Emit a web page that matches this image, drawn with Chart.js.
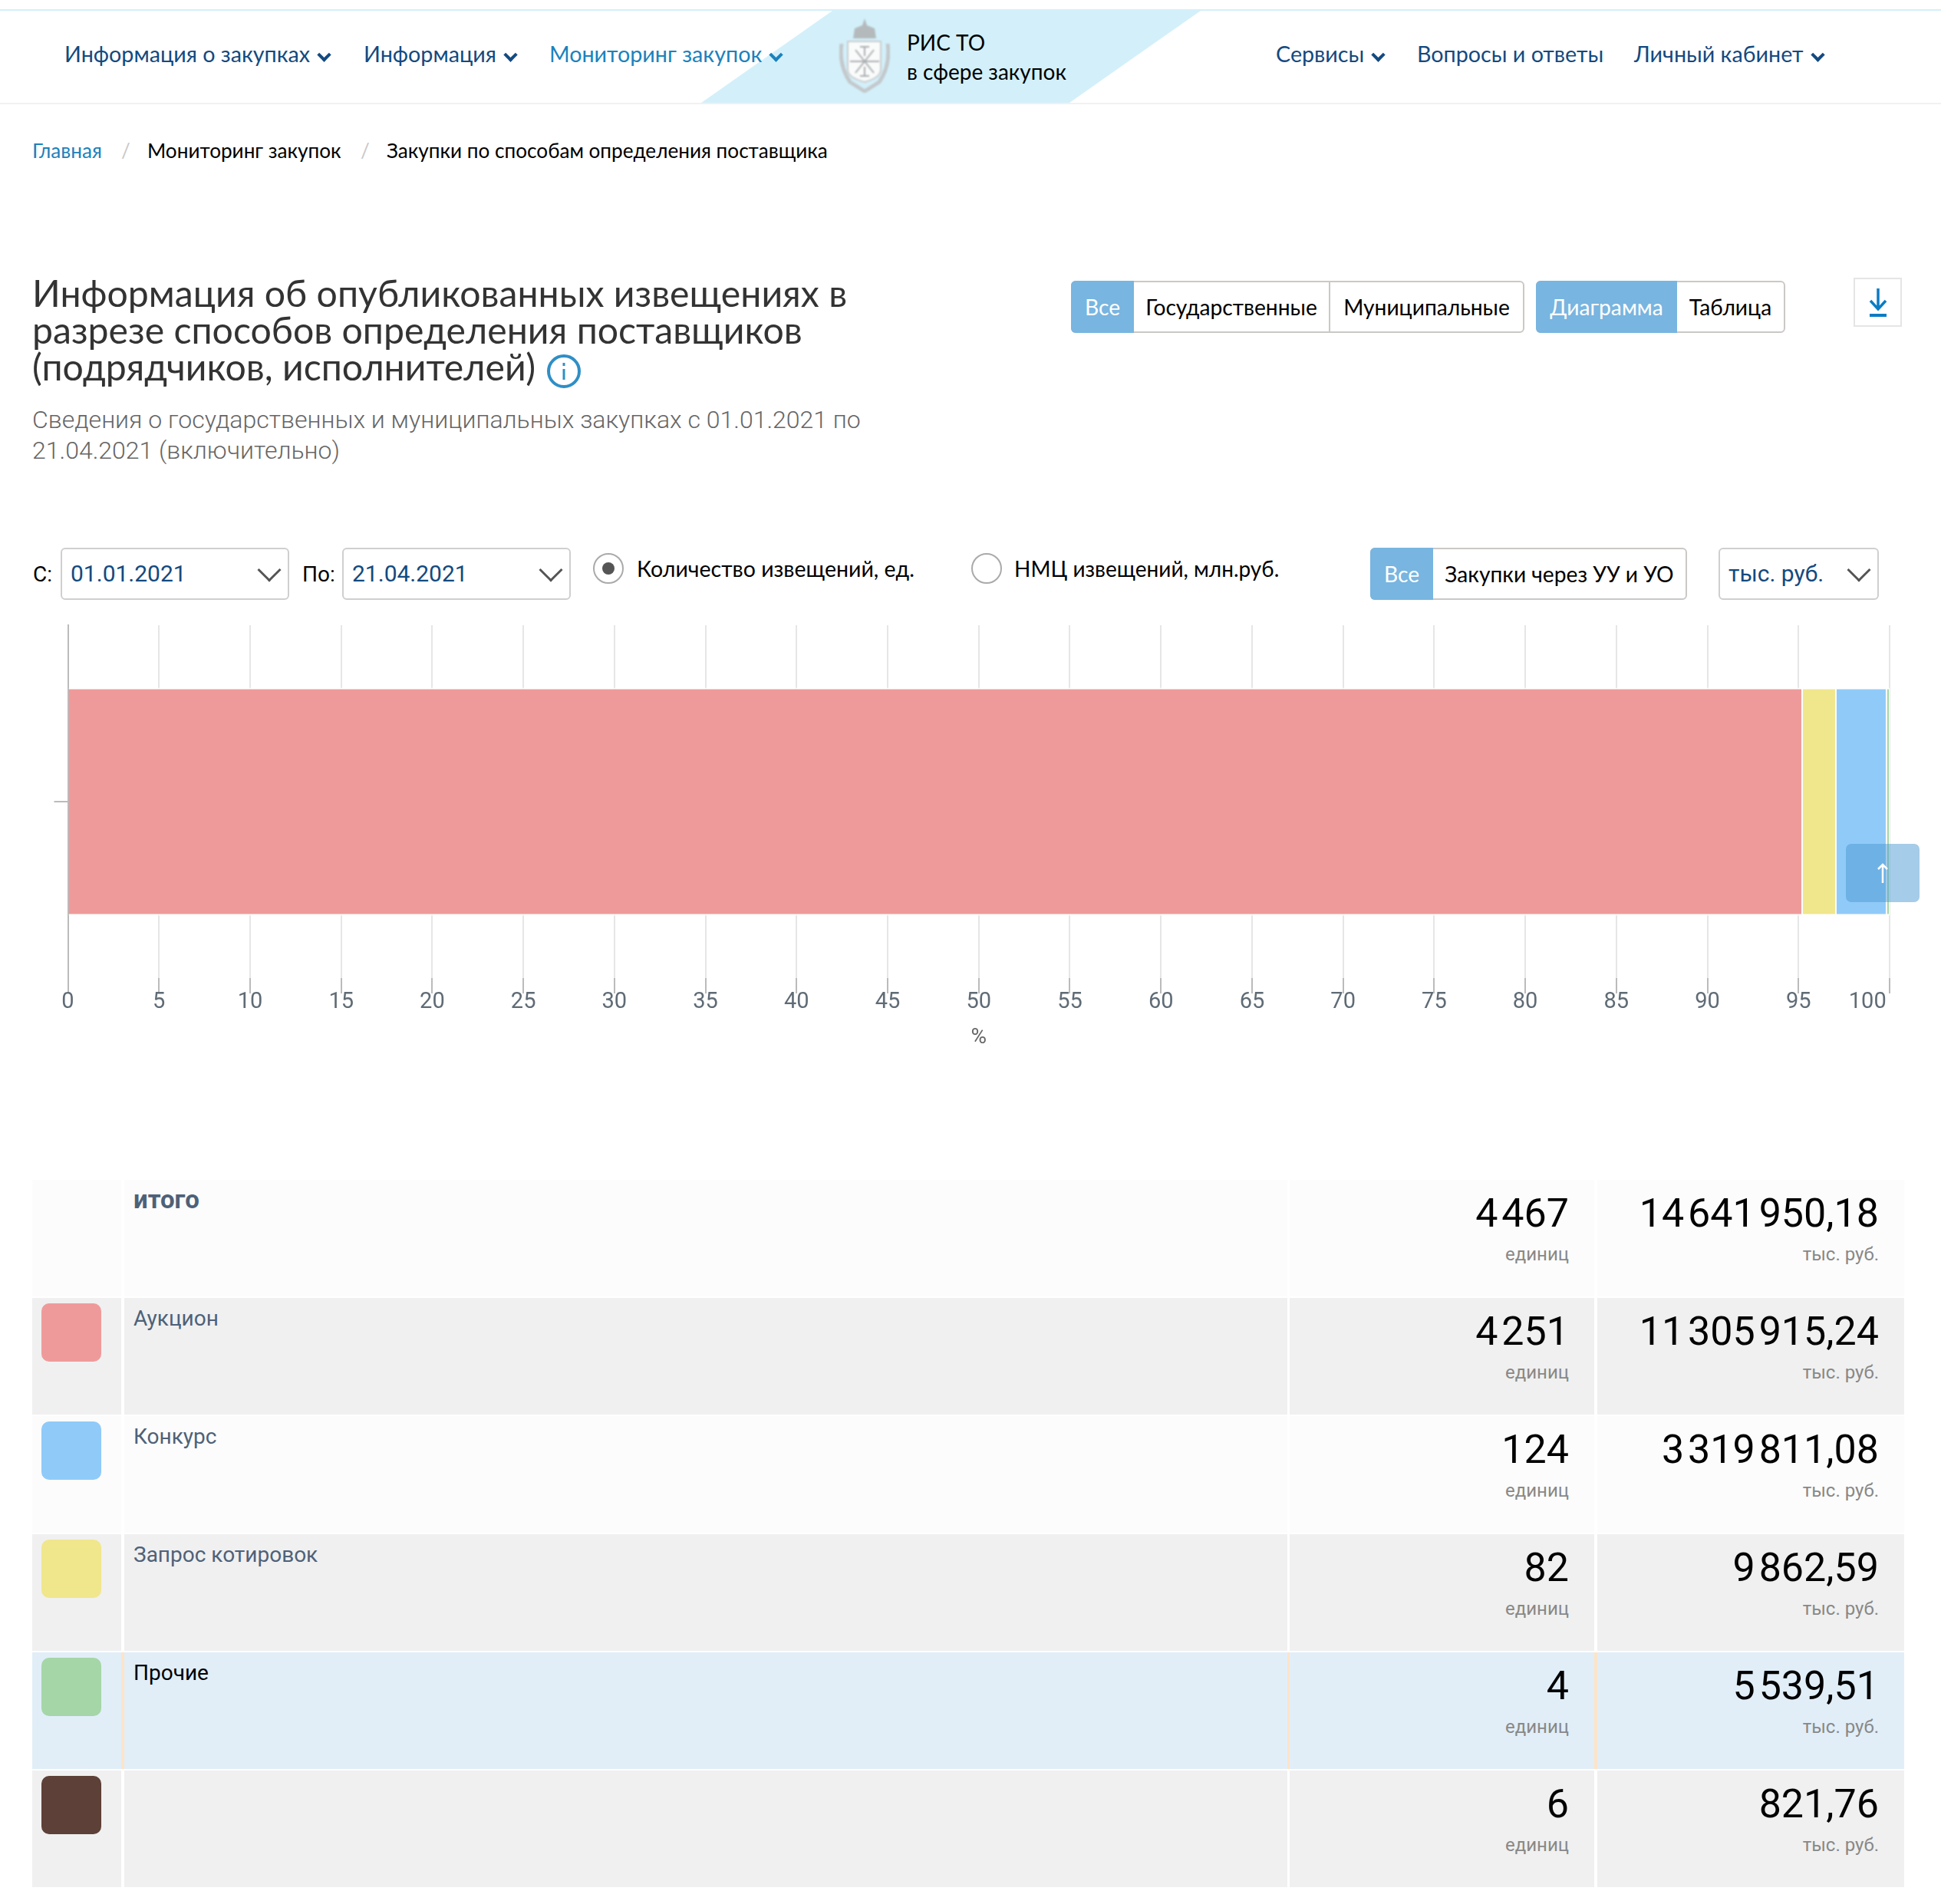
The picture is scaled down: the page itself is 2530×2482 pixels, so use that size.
<!DOCTYPE html>
<html lang="ru">
<head>
<meta charset="utf-8">
<title>Закупки по способам определения поставщика</title>
<script src="https://cdn.jsdelivr.net/npm/chart.js@4/dist/chart.umd.min.js"></script>
<style>
  html, body { margin: 0; background: #fff; }
  #page { position: relative; width: 2530px; height: 2482px; overflow: hidden; font-family: Lato, sans-serif; color: #000; }
  .abs { position: absolute; white-space: nowrap; }
  .mid { transform: translateY(-50%); }
  .nav { font-size: 28.7px; color: #134a80; }
  .nav.active { color: #1b82bd; }
  .chev { display: inline-block; width: 9px; height: 9px; border: solid currentColor; border-width: 0 4px 4px 0; transform: rotate(45deg); margin: 0 0 3px 12px; }
  .crumb { font-size: 26.15px; }
  .seg { position: absolute; top: 366px; height: 68px; box-sizing: border-box; border: 2px solid #cbc8c5; border-radius: 6px; display: flex; font-size: 28.2px; }
  .seg span { display: flex; align-items: center; justify-content: center; box-sizing: border-box; height: 100%; }
  .seg .on { background: #78b5e0; color: #fff; margin: -2px 0 -2px -2px; height: 68px; border-radius: 6px 0 0 6px; }
  .seg .sep { border-left: 2px solid #cbc8c5; }
  .field { position: absolute; top: 714px; height: 68px; box-sizing: border-box; border: 2px solid #cfcfcf; border-radius: 6px; color: #134a80; font: 30px Roboto, sans-serif; display: flex; align-items: center; padding: 0 0 2px 11px; }
  .field::after { content: ""; position: absolute; right: 13px; top: 16px; width: 19px; height: 19px; border: solid #555; border-width: 0 3px 3px 0; transform: rotate(45deg); }
  .radio { position: absolute; width: 40px; height: 40px; box-sizing: border-box; border: 2px solid #aaa; border-radius: 50%; }
  .row { position: absolute; left: 42px; width: 2440px; height: 152px; }
  .cell { position: absolute; top: 0; bottom: 0; }
  .swatch { position: absolute; left: 12px; top: 7px; width: 78px; height: 76px; border-radius: 10px; }
  .rowname { position: absolute; left: 12px; top: 10px; font: 28px Roboto, sans-serif; color: #4e6178; white-space: nowrap; }
  .num { position: absolute; right: 33px; top: 13px; font: 52px/62px Roboto, sans-serif; word-spacing: -8px; white-space: nowrap; }
  .unit { position: absolute; right: 33px; top: 82px; font: 24px/30px Roboto, sans-serif; color: #888; white-space: nowrap; }
</style>
</head>
<body>
<div id="page">
  <!-- header -->
  <div class="abs" style="left:0;top:12px;width:2530px;height:2px;background:#d3f0fa"></div>
  <div class="abs" style="left:0;top:134px;width:2530px;height:2px;background:#f1f1f1"></div>
  <svg class="abs" style="left:0;top:14px" width="2530" height="120"><polygon points="1085,0 1565,0 1394,120 914,120" fill="#d3f0fa"/></svg>
  <svg class="abs" style="left:1094px;top:23px;filter:blur(.8px)" width="66" height="98" viewBox="0 0 66 98">
    <path d="M3 34 Q-1 62 14 84 L33 96 L52 84 Q67 62 63 34" fill="none" stroke="#c3c8cb" stroke-width="5"/>
    <path d="M33 1 L36 10 L46 14 L48 27 L18 27 L20 14 L30 10 Z" fill="#b4b9bc"/>
    <path d="M11 31 H54 V68 Q54 78 33 84 Q11 78 11 68 Z" fill="#fafbfb" stroke="#c9cdcf" stroke-width="2"/>
    <path d="M21 42 L45 72 M45 42 L21 72 M14 57 H52 M33 38 V50 M33 64 V76 M27 38 H39 M27 76 H39" stroke="#a9adaf" stroke-width="2" fill="none"/>
  </svg>
  <div class="abs mid nav" style="left:84px;top:70px">Информация о закупках<i class="chev"></i></div>
  <div class="abs mid nav" style="left:474px;top:70px">Информация<i class="chev"></i></div>
  <div class="abs mid nav active" style="left:716px;top:70px">Мониторинг закупок<i class="chev"></i></div>
  <div class="abs mid" style="left:1182px;top:55px;font-size:28px">РИС ТО</div>
  <div class="abs mid" style="left:1182px;top:93px;font-size:28px">в сфере закупок</div>
  <div class="abs mid nav" style="left:1663px;top:70px">Сервисы<i class="chev"></i></div>
  <div class="abs mid nav" style="left:1847px;top:70px">Вопросы и ответы</div>
  <div class="abs mid nav" style="left:2130px;top:70px">Личный кабинет<i class="chev"></i></div>

  <!-- breadcrumbs -->
  <div class="abs mid crumb" style="left:42px;top:196px;color:#1b82bd">Главная</div>
  <div class="abs mid crumb" style="left:158px;top:196px;color:#c8c8c8">/</div>
  <div class="abs mid crumb" style="left:192px;top:196px">Мониторинг закупок</div>
  <div class="abs mid crumb" style="left:470px;top:196px;color:#c8c8c8">/</div>
  <div class="abs mid crumb" style="left:504px;top:196px">Закупки по способам определения поставщика</div>

  <!-- title -->
  <div class="abs" style="left:42px;top:357px;font-size:48.2px;line-height:48px;color:#333">Информация об опубликованных извещениях в<br>разрезе способов определения поставщиков<br>(подрядчиков, исполнителей)</div>
  <svg class="abs" style="left:712px;top:461px" width="46" height="46" viewBox="0 0 46 46">
    <circle cx="23" cy="23" r="20" fill="none" stroke="#2f8fc6" stroke-width="4"/>
    <rect x="21.5" y="20" width="3" height="14" fill="#2f8fc6"/><rect x="21.5" y="12" width="3" height="4" fill="#2f8fc6"/>
  </svg>
  <div class="abs" style="left:42px;top:527px;font:300 32px/40px Roboto, sans-serif;color:#666">Сведения о государственных и муниципальных закупках с 01.01.2021 по<br>21.04.2021 (включительно)</div>

  <!-- toggles -->
  <div class="seg" style="left:1396px;width:591px">
    <span class="on" style="width:82px">Все</span><span style="width:254px">Государственные</span><span class="sep" style="width:253px">Муниципальные</span>
  </div>
  <div class="seg" style="left:2002px;width:325px">
    <span class="on" style="width:184px">Диаграмма</span><span style="width:139px">Таблица</span>
  </div>
  <div class="abs" style="left:2416px;top:362px;width:63px;height:64px;box-sizing:border-box;border:2px solid #e5e5e5"></div>
  <svg class="abs" style="left:2433px;top:374px" width="30" height="42" viewBox="0 0 30 42">
    <path d="M15 2 V28 M5 18 L15 29 L25 18" fill="none" stroke="#0a7cc4" stroke-width="3.5"/><rect x="4" y="35" width="22" height="4" fill="#0a7cc4"/>
  </svg>

  <!-- filters -->
  <div class="abs mid" style="left:43px;top:748px;font:28px Roboto, sans-serif">С:</div>
  <div class="field" style="left:79px;width:298px">01.01.2021</div>
  <div class="abs mid" style="left:394px;top:748px;font:28px Roboto, sans-serif">По:</div>
  <div class="field" style="left:446px;width:298px">21.04.2021</div>
  <div class="radio" style="left:773px;top:721px"><div style="width:16px;height:16px;border-radius:50%;background:#555;margin:10px"></div></div>
  <div class="abs mid" style="left:830px;top:741px;font-size:28.5px">Количество извещений, ед.</div>
  <div class="radio" style="left:1266px;top:721px"></div>
  <div class="abs mid" style="left:1322px;top:741px;font-size:28px">НМЦ извещений, млн.руб.</div>
  <div class="seg" style="left:1786px;top:714px;width:413px">
    <span class="on" style="width:82px">Все</span><span style="width:329px">Закупки через УУ и УО</span>
  </div>
  <div class="field" style="left:2240px;width:209px">тыс. руб.</div>

  <!-- chart -->
  <canvas id="chart" class="abs" style="left:0;top:800px" width="2530" height="570"></canvas>
  <div class="abs" style="left:2406px;top:1100px;width:96px;height:76px;border-radius:7px;background:rgba(75,153,209,.5);"></div>
  <svg class="abs" style="left:2445px;top:1125px" width="18" height="26" viewBox="0 0 18 26"><path d="M9 26 V3 M3 8 L9 2 L15 8" fill="none" stroke="#fff" stroke-width="2.5"/></svg>

  <!-- table -->
  <div id="rows"></div>
</div>
<script>
// chart values, % of all notices
const categories = ['Способы'];
const seriesNames = ['Аукцион', 'Запрос котировок', 'Конкурс', 'Прочие'];
const seriesShares = [95.2, 1.85, 2.78, 0.17];
const seriesColors = ['#ef9a9a', '#f0e68c', '#90caf9', '#a5d6a7'];
const xTicks = [0, 5, 10, 15, 20, 25, 30, 35, 40, 45, 50, 55, 60, 65, 70, 75, 80, 85, 90, 95, 100];

// table below the chart
const rowNames = ['итого', 'Аукцион', 'Конкурс', 'Запрос котировок', 'Прочие', ''];
const rowCounts = ['4 467', '4 251', '124', '82', '4', '6'];
const rowSums = ['14 641 950,18', '11 305 915,24', '3 319 811,08', '9 862,59', '5 539,51', '821,76'];
const rowSwatches = [null, '#ef9a9a', '#90caf9', '#f0e68c', '#a5d6a7', '#5d4037'];

const rowTops = [1538, 1692, 1846, 2000, 2154, 2308];

document.getElementById('rows').innerHTML = rowNames.map((name, i) => {
  const hi = i === 4;
  const bg = hi ? '#e1eef8' : (i % 2 ? '#f0f0f0' : '#fcfcfc');
  const gap = hi ? '#fde4c8' : '#fff';
  return `
    <div class="row" style="top:${rowTops[i]}px;background:${gap}">
      <div class="cell" style="left:0;width:116px;background:${bg}">
        ${rowSwatches[i] ? `<div class="swatch" style="background:${rowSwatches[i]}"></div>` : ''}
      </div>
      <div class="cell" style="left:120px;width:1516px;background:${bg}">
        <div class="rowname" style="${i === 0 ? 'font-weight:700;font-size:33px;top:6px;' : ''}${hi ? 'color:#000;' : ''}">${name}</div>
      </div>
      <div class="cell" style="left:1639px;width:397px;background:${bg}">
        <div class="num">${rowCounts[i]}</div><div class="unit">единиц</div>
      </div>
      <div class="cell" style="left:2040px;width:400px;background:${bg}">
        <div class="num">${rowSums[i]}</div><div class="unit">тыс. руб.</div>
      </div>
    </div>`;
}).join('');

new Chart(document.getElementById('chart'), {
  type: 'bar',
  data: {
    labels: categories,
    datasets: seriesNames.map((name, i) => ({
      label: name,
      data: [seriesShares[i]],
      backgroundColor: seriesColors[i],
      borderColor: '#fff',
      borderWidth: { top: 2, bottom: 2, left: i === 0 ? 0 : 1, right: 1 },
      borderSkipped: false,
      barPercentage: 0.6457,
      categoryPercentage: 1,
    })),
  },
  options: {
    indexAxis: 'y',
    responsive: false,
    animation: false,
    devicePixelRatio: 1,
    layout: { padding: { top: 15, right: 67, bottom: 0, left: 0 } },
    plugins: { legend: { display: false }, tooltip: { enabled: false } },
    scales: {
      x: {
        stacked: true,
        min: 0,
        max: 100,
        afterBuildTicks: s => { s.ticks = xTicks.map(v => ({ value: v })); },
        afterFit: s => { s.height = 95; },
        grid: { color: '#e6e6e6', lineWidth: 2, tickColor: '#bbb', tickLength: 20 },
        border: { display: false },
        ticks: {
          autoSkip: false,
          maxRotation: 0,
          padding: -6,
          color: '#5f6b75',
          font: { family: 'Roboto', size: 29 },
          // last label sits left of its tick in the original
          callback: v => (v === 100 ? '100' + '\u00a0'.repeat(8) : String(v)),
        },
        title: { display: true, text: '%', color: '#666', font: { family: 'Roboto', size: 28 }, padding: 0 },
      },
      y: {
        stacked: true,
        afterFit: s => { s.width = 88.5; },
        grid: { drawOnChartArea: false, offset: false, tickColor: '#bbb', lineWidth: 2, tickLength: 18 },
        border: { color: '#bbb', width: 2 },
        ticks: { display: true, padding: 0, callback: () => '' },
      },
    },
  },
});
</script>
</body>
</html>
